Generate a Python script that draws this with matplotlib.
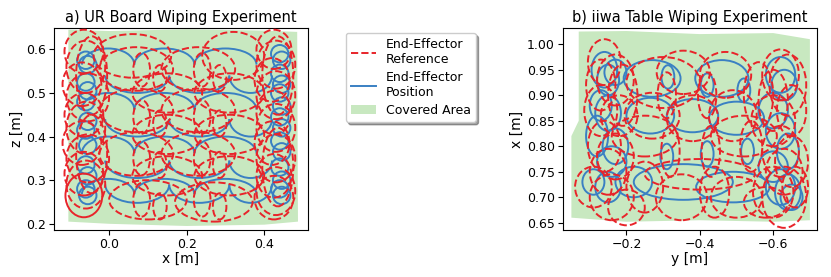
import matplotlib
matplotlib.use("Agg")
import matplotlib.pyplot as plt
from matplotlib.patches import Ellipse, Arc, Patch, Polygon
from matplotlib.lines import Line2D

RED = "#e8242a"
BLUE = "#3a80c3"
GREEN = "#c8e8c0"

# ---------------- a) UR board (x, z) ----------------
area_a_x = [-0.105, 0.0, 0.2, 0.4, 0.485, 0.487, 0.4, 0.2, 0.0, -0.105]
area_a_z = [0.645, 0.642, 0.646, 0.643, 0.64, 0.205, 0.198, 0.195, 0.2, 0.205]

ref_a_x = [-0.065, -0.06, -0.07, -0.055, -0.065, -0.06, -0.07, -0.055, -0.065, -0.06, -0.045, -0.045,
           0.425, 0.43, 0.42, 0.43, 0.425, 0.43, 0.42, 0.43, 0.425, 0.43, 0.435, 0.435, 0.425,
           0.07, 0.23, 0.15, 0.31, 0.07, 0.23, 0.15, 0.31, 0.07, 0.23, 0.15, 0.31, 0.1, 0.27, 0.06, 0.32,
           0.084, 0.131, 0.24, 0.285, 0.084, 0.131, 0.24, 0.285,
           0.084, 0.131, 0.24, 0.285, 0.084, 0.131, 0.24, 0.285]
ref_a_z = [0.595, 0.56, 0.52, 0.49, 0.45, 0.42, 0.385, 0.35, 0.315, 0.29, 0.54, 0.36,
           0.6, 0.565, 0.53, 0.495, 0.455, 0.42, 0.385, 0.35, 0.31, 0.275, 0.54, 0.33, 0.26,
           0.555, 0.555, 0.5, 0.5, 0.46, 0.46, 0.405, 0.405, 0.36, 0.36, 0.31, 0.31, 0.255, 0.25, 0.585, 0.585,
           0.553, 0.534, 0.553, 0.534, 0.445, 0.43, 0.445, 0.43,
           0.35, 0.335, 0.35, 0.335, 0.255, 0.24, 0.255, 0.24]
ref_a_w = [0.1, 0.1, 0.1, 0.11, 0.1, 0.1, 0.1, 0.11, 0.1, 0.1, 0.08, 0.08,
           0.09, 0.1, 0.09, 0.1, 0.09, 0.1, 0.09, 0.1, 0.09, 0.1, 0.08, 0.08, 0.1,
           0.19, 0.19, 0.18, 0.18, 0.19, 0.19, 0.18, 0.18, 0.19, 0.19, 0.18, 0.18, 0.2, 0.2, 0.2, 0.16,
           0.043, 0.035, 0.043, 0.035, 0.043, 0.035, 0.043, 0.035,
           0.043, 0.035, 0.043, 0.035, 0.043, 0.035, 0.043, 0.035]
ref_a_h = [0.1, 0.12, 0.1, 0.11, 0.1, 0.12, 0.1, 0.11, 0.1, 0.11, 0.18, 0.18,
           0.09, 0.11, 0.1, 0.11, 0.1, 0.11, 0.1, 0.11, 0.1, 0.11, 0.18, 0.18, 0.1,
           0.1, 0.1, 0.09, 0.09, 0.1, 0.1, 0.09, 0.09, 0.1, 0.1, 0.09, 0.09, 0.09, 0.09, 0.1, 0.11,
           0.077, 0.06, 0.077, 0.06, 0.077, 0.06, 0.077, 0.06,
           0.077, 0.06, 0.077, 0.06, 0.077, 0.06, 0.077, 0.06]
# reference loop drawn so densely that it looks solid
loop_a = (-0.065, 0.265, 0.095, 0.1)

pos_a_x = [-0.06, -0.055, -0.06, -0.055, -0.06, -0.055, -0.06, -0.055, -0.06, -0.055, -0.06, -0.055,
           0.44, 0.445, 0.44, 0.445, 0.44, 0.445, 0.44, 0.445, 0.44, 0.445, 0.44, 0.445, 0.44, 0.445]
pos_a_z = [0.575, 0.565, 0.525, 0.505, 0.48, 0.435, 0.415, 0.38, 0.335, 0.31, 0.28, 0.265,
           0.59, 0.575, 0.545, 0.52, 0.5, 0.47, 0.445, 0.42, 0.39, 0.365, 0.33, 0.3, 0.28, 0.265]
pos_a_w = [0.045] * 26
pos_a_h = [0.04] * 26

row_z = [0.565, 0.54, 0.462, 0.44, 0.362, 0.345, 0.268, 0.29]
row_dir = [1, -1, 1, -1, 1, -1, 1, -1]
row_amp = [0.037, 0.04, 0.038, 0.04, 0.038, 0.04, 0.035, 0.042]
cusps_up = [-0.07, 0.065, 0.22, 0.38]
cusps_down = [-0.01, 0.155, 0.31, 0.42]

# ---------------- b) iiwa table (y, x) ----------------
area_b_y = [-0.07, -0.2, -0.4, -0.6, -0.7, -0.7, -0.6, -0.4, -0.2, -0.05, -0.05, -0.07]
area_b_x = [1.025, 1.026, 1.02, 1.022, 1.01, 0.655, 0.652, 0.655, 0.652, 0.66, 0.82, 0.85]

ref_b_y = [-0.14, -0.17, -0.13, -0.355, -0.47, -0.56, -0.62, -0.64, -0.31, -0.42,
           -0.13, -0.18, -0.27, -0.38, -0.49, -0.6, -0.65,
           -0.14, -0.17, -0.32, -0.43, -0.54, -0.62, -0.65,
           -0.11, -0.16, -0.25, -0.35, -0.44, -0.5, -0.6, -0.63, -0.66,
           -0.4, -0.3, -0.19, -0.6, -0.25, -0.52, -0.15, -0.63, -0.2, -0.58]
ref_b_x = [0.965, 0.93, 0.92, 0.945, 0.94, 0.9, 0.94, 0.92, 0.9, 0.9,
           0.87, 0.86, 0.86, 0.855, 0.86, 0.85, 0.87,
           0.8, 0.78, 0.79, 0.79, 0.8, 0.79, 0.77,
           0.72, 0.7, 0.72, 0.7, 0.71, 0.7, 0.71, 0.7, 0.72,
           0.745, 0.925, 0.9, 0.89, 0.82, 0.82, 0.75, 0.75, 0.68, 0.69]
ref_b_w = [0.09, 0.1, 0.08, 0.145, 0.14, 0.08, 0.1, 0.1, 0.05, 0.05,
           0.09, 0.1, 0.15, 0.14, 0.13, 0.12, 0.08,
           0.09, 0.1, 0.05, 0.05, 0.06, 0.1, 0.09,
           0.1, 0.12, 0.1, 0.14, 0.08, 0.14, 0.11, 0.12, 0.07,
           0.3, 0.2, 0.08, 0.08, 0.18, 0.18, 0.1, 0.1, 0.1, 0.12]
ref_b_h = [0.09, 0.1, 0.1, 0.085, 0.09, 0.13, 0.1, 0.12, 0.09, 0.09,
           0.1, 0.08, 0.09, 0.09, 0.1, 0.1, 0.1,
           0.1, 0.09, 0.1, 0.1, 0.1, 0.1, 0.1,
           0.08, 0.09, 0.1, 0.09, 0.1, 0.08, 0.1, 0.12, 0.08,
           0.06, 0.1, 0.12, 0.12, 0.08, 0.08, 0.09, 0.09, 0.07, 0.06]

pos_b_y = [-0.14, -0.15, -0.17, -0.13, -0.15, -0.12, -0.17, -0.11, -0.15,
           -0.62, -0.63, -0.6, -0.62, -0.64, -0.62, -0.64, -0.65,
           -0.27, -0.46, -0.265, -0.38, -0.5, -0.355, -0.49, -0.22,
           -0.313, -0.42, -0.52, -0.31, -0.42, -0.53, -0.16, -0.6]
pos_b_x = [0.95, 0.93, 0.945, 0.88, 0.865, 0.82, 0.8, 0.73, 0.72,
           0.94, 0.92, 0.87, 0.83, 0.79, 0.72, 0.71, 0.7,
           0.933, 0.933, 0.86, 0.86, 0.855, 0.73, 0.72, 0.73,
           0.936, 0.92, 0.91, 0.78, 0.785, 0.79, 0.77, 0.76]
pos_b_w = [0.07, 0.06, 0.06, 0.06, 0.07, 0.06, 0.07, 0.06, 0.07,
           0.08, 0.07, 0.08, 0.08, 0.06, 0.08, 0.07, 0.06,
           0.155, 0.145, 0.13, 0.14, 0.15, 0.27, 0.2, 0.1,
           0.035, 0.035, 0.035, 0.035, 0.035, 0.035, 0.08, 0.08]
pos_b_h = [0.07, 0.06, 0.05, 0.06, 0.07, 0.08, 0.07, 0.05, 0.06,
           0.07, 0.06, 0.07, 0.07, 0.07, 0.07, 0.07, 0.05,
           0.072, 0.072, 0.07, 0.065, 0.065, 0.07, 0.06, 0.06,
           0.046, 0.046, 0.046, 0.05, 0.05, 0.05, 0.06, 0.06]


def draw_ellipses(ax, xs, ys, ws, hs, color, ls):
    for x, y, w, h in zip(xs, ys, ws, hs):
        ax.add_patch(Ellipse((x, y), w, h, fill=False, edgecolor=color,
                             linestyle=ls, linewidth=1.4, zorder=3 if ls == "--" else 2))


fig = plt.figure(figsize=(8.31, 2.77), dpi=100)
ax_a = fig.add_axes([0.065, 0.170, 0.3057, 0.729])
ax_b = fig.add_axes([0.677, 0.170, 0.306, 0.729])

# panel a
ax_a.add_patch(Polygon(list(zip(area_a_x, area_a_z)), closed=True, facecolor=GREEN,
                       edgecolor="none", zorder=1))
for z0, d, amp in zip(row_z, row_dir, row_amp):
    cusps = cusps_up if d > 0 else cusps_down
    t1, t2 = (0, 180) if d > 0 else (180, 360)
    for c0, c1 in zip(cusps[:-1], cusps[1:]):
        ax_a.add_patch(Arc(((c0 + c1) / 2, z0), c1 - c0, 2 * amp, theta1=t1, theta2=t2,
                           color=BLUE, linewidth=1.4, zorder=2))
draw_ellipses(ax_a, pos_a_x, pos_a_z, pos_a_w, pos_a_h, BLUE, "-")
draw_ellipses(ax_a, ref_a_x, ref_a_z, ref_a_w, ref_a_h, RED, "--")
ax_a.add_patch(Ellipse(loop_a[:2], loop_a[2], loop_a[3], fill=False, edgecolor=RED,
                       linewidth=1.4, zorder=3))
ax_a.set_xlim(-0.142, 0.513)
ax_a.set_ylim(0.186, 0.649)
ax_a.set_xticks([0.0, 0.2, 0.4])
ax_a.set_yticks([0.2, 0.3, 0.4, 0.5, 0.6])
ax_a.set_xlabel("x [m]", fontsize=10, labelpad=1)
ax_a.set_ylabel("z [m]", fontsize=10, labelpad=2)
ax_a.set_title("a) UR Board Wiping Experiment", fontsize=10.5, pad=4)

# panel b
ax_b.add_patch(Polygon(list(zip(area_b_y, area_b_x)), closed=True, facecolor=GREEN,
                       edgecolor="none", zorder=1))
draw_ellipses(ax_b, pos_b_y, pos_b_x, pos_b_w, pos_b_h, BLUE, "-")
draw_ellipses(ax_b, ref_b_y, ref_b_x, ref_b_w, ref_b_h, RED, "--")
ax_b.set_xlim(-0.026, -0.719)
ax_b.set_ylim(0.636, 1.032)
ax_b.set_xticks([-0.2, -0.4, -0.6])
ax_b.set_yticks([0.65, 0.70, 0.75, 0.80, 0.85, 0.90, 0.95, 1.00])
ax_b.set_yticklabels(["0.65", "0.70", "0.75", "0.80", "0.85", "0.90", "0.95", "1.00"])
ax_b.set_xlabel("y [m]", fontsize=10, labelpad=1)
ax_b.set_ylabel("x [m]", fontsize=10, labelpad=2)
ax_b.set_title("b) iiwa Table Wiping Experiment", fontsize=10.5, pad=4)

for ax in (ax_a, ax_b):
    ax.tick_params(labelsize=9, length=3.5, pad=2)

handles = [Line2D([], [], color=RED, linestyle="--", linewidth=1.4),
           Line2D([], [], color=BLUE, linewidth=1.4),
           Patch(facecolor=GREEN, edgecolor="none")]
labels = ["End-Effector\nReference", "End-Effector\nPosition", "Covered Area"]
fig.legend(handles, labels, loc="upper left", bbox_to_anchor=(0.416, 0.881),
           borderaxespad=0, fontsize=9, fancybox=True, shadow=True, framealpha=1,
           handlelength=2.0, labelspacing=0.4)

fig.savefig("out.png", dpi=100)
